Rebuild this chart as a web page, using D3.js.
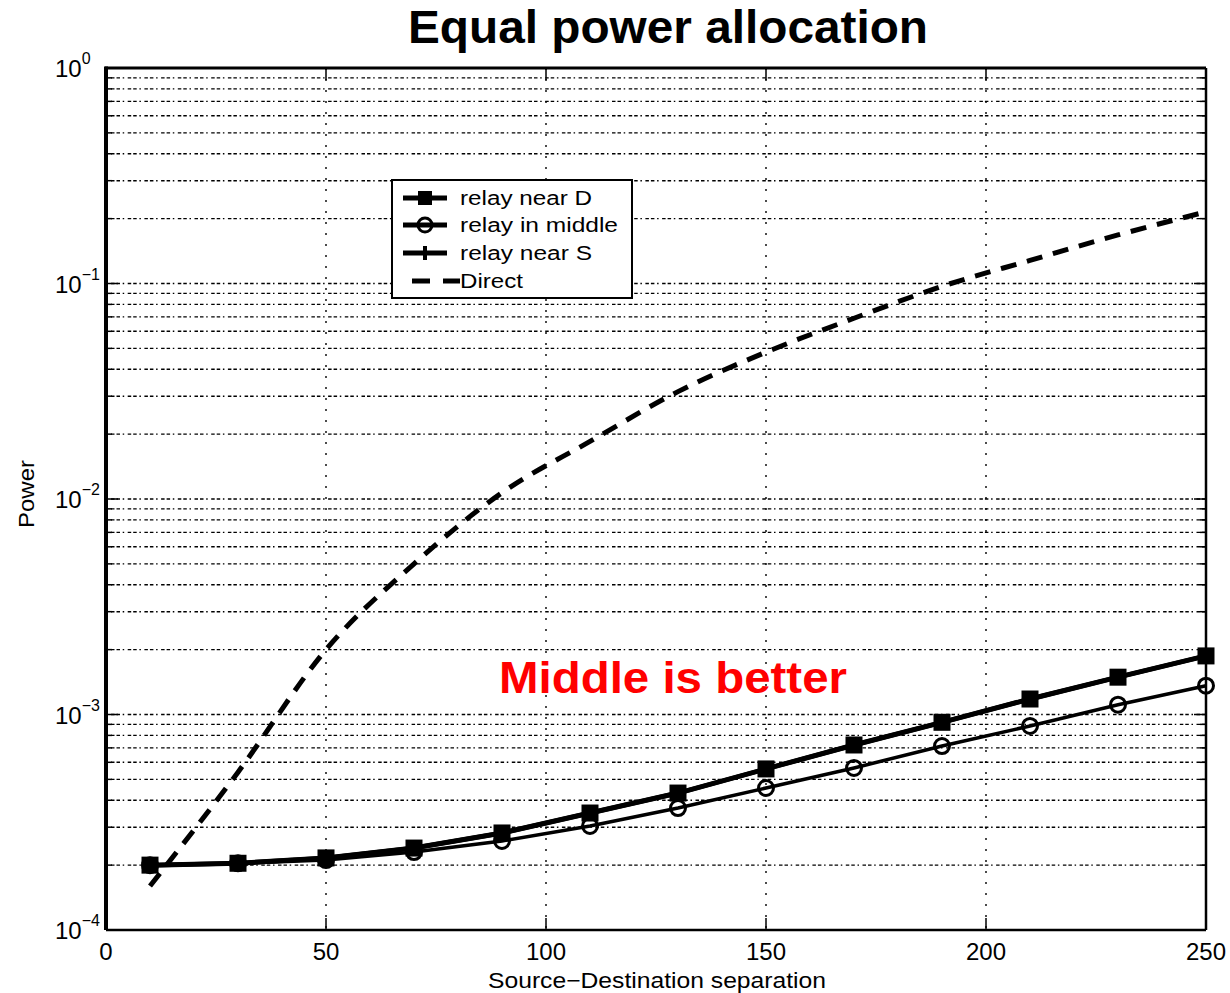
<!DOCTYPE html>
<html>
<head>
    <meta charset='utf-8'/>
    <title>Equal power allocation</title>
    <style>
        body { margin: 0; background: #fff; }
        text { font-family: "Liberation Sans", Arial, sans-serif; fill: #000; }
        .grid line { stroke: #000; stroke-width: 1.4; }
    </style>
</head>
<body>
<div id="chart"></div>

<script src="https://d3js.org/d3.v7.min.js"></script>
<script type="text/javascript">

    // data
    var separation = [10, 30, 50, 70, 90, 110, 130, 150, 170, 190, 210, 230, 250];
    var nearD  = [2.0e-4, 2.04e-4, 2.16e-4, 2.4e-4, 2.82e-4, 3.49e-4, 4.32e-4, 5.59e-4, 7.22e-4, 9.2e-4, 1.18e-3, 1.49e-3, 1.87e-3];
    var middle = [2.0e-4, 2.04e-4, 2.11e-4, 2.3e-4, 2.59e-4, 3.04e-4, 3.68e-4, 4.56e-4, 5.65e-4, 7.14e-4, 8.85e-4, 1.11e-3, 1.36e-3];
    var nearS  = [2.0e-4, 2.04e-4, 2.16e-4, 2.4e-4, 2.82e-4, 3.49e-4, 4.32e-4, 5.59e-4, 7.22e-4, 9.2e-4, 1.18e-3, 1.49e-3, 1.87e-3];
    var direct = [1.6e-4, 5.4e-4, 2.0e-3, 5.0e-3, 1.07e-2, 1.85e-2, 3.15e-2, 4.8e-2, 6.9e-2, 9.7e-2, 1.28e-1, 1.68e-1, 2.15e-1];

    var xTicks = [0, 50, 100, 150, 200, 250];
    var yExp = [0, -1, -2, -3, -4];
    var legendNames = ["relay near D", "relay in middle", "relay near S", "Direct"];

    // dims
    var svg_dx = 1230, svg_dy = 993;
    var x = d3.scaleLinear().domain([0, 250]).range([106, 1206]);
    var y = d3.scaleLog().domain([1e-4, 1]).range([930, 68]);

    var svg = d3.select("#chart")
        .append("svg")
        .attr("width", svg_dx)
        .attr("height", svg_dy);

    // grid
    var minor = [];
    for (var e = -4; e < 0; e++) {
        for (var m = 1; m <= 9; m++) minor.push(m * Math.pow(10, e));
    }
    var grid = svg.append("g").attr("class", "grid");
    grid.selectAll("line.h")
        .data(minor.filter(v => v > 1e-4))
        .enter().append("line")
        .attr("class", "h")
        .attr("x1", x(0)).attr("x2", x(250))
        .attr("y1", d => y(d)).attr("y2", d => y(d))
        .attr("stroke-dasharray", "1.5,3.5,3.5,2,3.5,2.7");
    grid.selectAll("line.v")
        .data(xTicks.slice(1, -1))
        .enter().append("line")
        .attr("class", "v")
        .attr("x1", d => x(d)).attr("x2", d => x(d))
        .attr("y1", y(1)).attr("y2", y(1e-4))
        .attr("stroke-dasharray", "2,9");

    // ticks (inward, both sides)
    var ticks = svg.append("g").attr("stroke", "#000").attr("stroke-width", 1.5);
    minor.concat([1]).forEach(function (v) {
        var isMajor = Math.abs(Math.log10(v) - Math.round(Math.log10(v))) < 1e-9;
        var len = isMajor ? 12 : 6;
        ticks.append("line").attr("x1", x(0)).attr("x2", x(0) + len).attr("y1", y(v)).attr("y2", y(v));
        ticks.append("line").attr("x1", x(250)).attr("x2", x(250) - len).attr("y1", y(v)).attr("y2", y(v));
    });
    xTicks.forEach(function (v) {
        ticks.append("line").attr("x1", x(v)).attr("x2", x(v)).attr("y1", y(1e-4)).attr("y2", y(1e-4) - 12);
        ticks.append("line").attr("x1", x(v)).attr("x2", x(v)).attr("y1", y(1)).attr("y2", y(1) + 12);
    });

    // frame
    svg.append("line").attr("x1", x(0)).attr("x2", x(250)).attr("y1", y(1e-4)).attr("y2", y(1e-4))
        .attr("stroke", "#000").attr("stroke-width", 2.5);
    svg.append("line").attr("x1", x(250)).attr("x2", x(250)).attr("y1", y(1)).attr("y2", y(1e-4))
        .attr("stroke", "#000").attr("stroke-width", 2.5);
    svg.append("line").attr("x1", x(0) - 1).attr("x2", x(250)).attr("y1", y(1)).attr("y2", y(1))
        .attr("stroke", "#000").attr("stroke-width", 3);
    svg.append("line").attr("x1", x(0)).attr("x2", x(0)).attr("y1", y(1) - 1.5).attr("y2", y(1e-4))
        .attr("stroke", "#000").attr("stroke-width", 4);

    // tick labels
    svg.append("g").selectAll("text")
        .data(xTicks)
        .enter().append("text")
        .attr("x", d => x(d))
        .attr("y", 960)
        .attr("text-anchor", "middle")
        .style("font-size", "24px")
        .text(d => d);

    var yl = svg.append("g").selectAll("text")
        .data(yExp)
        .enter().append("text")
        .attr("x", 55)
        .attr("y", d => y(Math.pow(10, d)) + 9)
        .style("font-size", "24px");
    yl.append("tspan").text("10");
    yl.append("tspan")
        .attr("dy", -13)
        .style("font-size", "16px")
        .text(d => d === 0 ? "0" : "\u2212" + Math.abs(d));

    // axis titles
    svg.append("text")
        .attr("x", 657).attr("y", 988)
        .attr("text-anchor", "middle")
        .attr("textLength", 338).attr("lengthAdjust", "spacingAndGlyphs")
        .style("font-size", "22px")
        .text("Source\u2212Destination separation");
    svg.append("text")
        .attr("transform", "translate(34,494) rotate(-90)")
        .attr("text-anchor", "middle")
        .attr("textLength", 68).attr("lengthAdjust", "spacingAndGlyphs")
        .style("font-size", "22px")
        .text("Power");

    svg.append("text")
        .attr("x", 668).attr("y", 43)
        .attr("text-anchor", "middle")
        .attr("textLength", 520).attr("lengthAdjust", "spacingAndGlyphs")
        .style("font-size", "46px")
        .style("font-weight", "bold")
        .text("Equal power allocation");

    // series
    var pts = arr => separation.map((s, i) => [s, arr[i]]);
    var line = d3.line().x(d => x(d[0])).y(d => y(d[1]));
    var curve = d3.line().x(d => x(d[0])).y(d => y(d[1])).curve(d3.curveMonotoneX);

    svg.append("path")
        .attr("d", curve(pts(direct)))
        .attr("fill", "none").attr("stroke", "#000").attr("stroke-width", 5)
        .attr("stroke-dasharray", "16,11");

    // relay near S
    svg.append("path")
        .attr("d", line(pts(nearS)))
        .attr("fill", "none").attr("stroke", "#000").attr("stroke-width", 4.5);
    svg.append("g").selectAll("path")
        .data(pts(nearS))
        .enter().append("path")
        .attr("d", d => "M" + (x(d[0]) - 7) + "," + y(d[1]) + "h14M" + x(d[0]) + "," + (y(d[1]) - 7) + "v14")
        .attr("stroke", "#000").attr("stroke-width", 4);

    // relay in middle
    svg.append("path")
        .attr("d", line(pts(middle)))
        .attr("fill", "none").attr("stroke", "#000").attr("stroke-width", 3.5);
    svg.append("g").selectAll("circle")
        .data(pts(middle))
        .enter().append("circle")
        .attr("cx", d => x(d[0])).attr("cy", d => y(d[1]))
        .attr("r", 7.5)
        .attr("fill", "none").attr("stroke", "#000").attr("stroke-width", 3);

    // relay near D
    svg.append("path")
        .attr("d", line(pts(nearD)))
        .attr("fill", "none").attr("stroke", "#000").attr("stroke-width", 5);
    svg.append("g").selectAll("rect")
        .data(pts(nearD))
        .enter().append("rect")
        .attr("x", d => x(d[0]) - 8.5).attr("y", d => y(d[1]) - 8.5)
        .attr("width", 17).attr("height", 17)
        .attr("fill", "#000");

    // annotation
    svg.append("text")
        .attr("x", 499).attr("y", 693)
        .attr("textLength", 348).attr("lengthAdjust", "spacingAndGlyphs")
        .style("font-size", "44px")
        .style("font-weight", "bold")
        .style("fill", "#ff0000")
        .text("Middle is better");

    // legend
    var lg = svg.append("g");
    lg.append("rect")
        .attr("x", 392).attr("y", 180).attr("width", 240).attr("height", 118)
        .attr("fill", "#fff").attr("stroke", "#000").attr("stroke-width", 2);
    var rowY = [198, 225, 253, 281];
    var legendLen = [132, 158, 132, 63];
    legendNames.forEach(function (name, i) {
        var cy = rowY[i];
        var seg = lg.append("line")
            .attr("x1", i === 3 ? 412 : 403).attr("x2", i === 3 ? 460 : 447)
            .attr("y1", cy).attr("y2", cy)
            .attr("stroke", "#000").attr("stroke-width", 5);
        if (i === 3) seg.attr("stroke-dasharray", "18,13");
        var cx = 425;
        if (i === 0) {
            lg.append("rect").attr("x", cx - 7).attr("y", cy - 7).attr("width", 14).attr("height", 14).attr("fill", "#000");
        } else if (i === 1) {
            lg.append("circle").attr("cx", cx).attr("cy", cy).attr("r", 7).attr("fill", "none")
                .attr("stroke", "#000").attr("stroke-width", 3);
        } else if (i === 2) {
            lg.append("path").attr("d", "M" + cx + "," + (cy - 7) + "v14")
                .attr("stroke", "#000").attr("stroke-width", 4);
        }
        lg.append("text")
            .attr("x", 460).attr("y", cy + 7)
            .attr("textLength", legendLen[i]).attr("lengthAdjust", "spacingAndGlyphs")
            .style("font-size", "20px")
            .text(name);
    });

</script>

</body>
</html>
